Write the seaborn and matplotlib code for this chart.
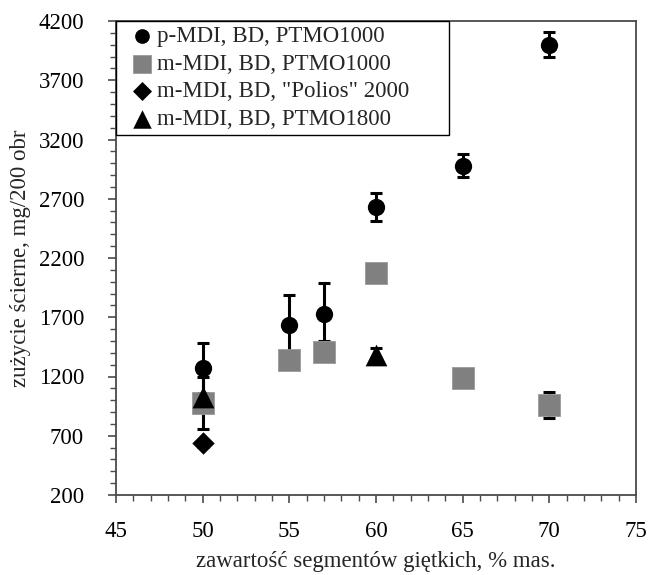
import matplotlib
matplotlib.use("Agg")
import matplotlib.pyplot as plt
from matplotlib.ticker import MultipleLocator
import seaborn as sns
import pandas as pd

# ---- data ----
pmdi_x = [50, 55, 57, 60, 65, 70]
pmdi_y = [1270, 1635, 1725, 2630, 2980, 4000]
pmdi_err_lo = [210, 250, 225, 120, 100, 105]
pmdi_err_hi = [210, 250, 265, 120, 100, 105]

mmdi_x = [50, 55, 57, 60, 65, 70]
mmdi_y = [980, 1340, 1405, 2075, 1190, 960]
mmdi_err = [220, 0, 0, 0, 0, 110]

polios_x = [50]
polios_y = [636]
polios_err = [30]

p1800_x = [50, 60]
p1800_y = [1030, 1380]
p1800_err = [0, 60]

labels = ["p-MDI, BD, PTMO1000", "m-MDI, BD, PTMO1000",
          "m-MDI, BD, \"Polios\" 2000", "m-MDI, BD, PTMO1800"]
xticks = [45, 50, 55, 60, 65, 70, 75]
yticks = [200, 700, 1200, 1700, 2200, 2700, 3200, 3700, 4200]

sns.set_theme(style="white")
plt.rcParams["font.family"] = ["Liberation Serif", "DejaVu Serif"]

FS = 16.5

fig = plt.figure(figsize=(6.48, 5.75), dpi=100)
ax = fig.add_axes([116 / 648, 1 - 495 / 575, 520 / 648, 474 / 575])

series = [
    (pmdi_x, pmdi_y, [pmdi_err_lo, pmdi_err_hi], "o", "black", 155, labels[0]),
    (mmdi_x, mmdi_y, [mmdi_err, mmdi_err], "s", "#808080", 235, labels[1]),
    (polios_x, polios_y, [polios_err, polios_err], "D", "black", 130, labels[2]),
    (p1800_x, p1800_y, [p1800_err, p1800_err], "^", "black", 245, labels[3]),
]

for xs, ys, err, mk, col, size, lab in series:
    ax.errorbar(xs, ys, yerr=err, fmt="none", ecolor="black", elinewidth=2.2,
                capsize=4.5, capthick=2.2, zorder=2)

for xs, ys, err, mk, col, size, lab in series:
    df = pd.DataFrame({"x": xs, "y": ys})
    sns.scatterplot(data=df, x="x", y="y", marker=mk, color=col, s=size,
                    edgecolor=("#9a9a9a" if col != "black" else "black"),
                    linewidth=(0.6 if col != "black" else 0), ax=ax,
                    label=lab, zorder=3)

ax.set_xlim(45, 75)
ax.set_ylim(200, 4200)
ax.set_xticks(xticks)
ax.set_yticks(yticks)
ax.xaxis.set_minor_locator(MultipleLocator(1))
ax.yaxis.set_minor_locator(MultipleLocator(100))

spine_col = "#4a4a4a"
for s in ax.spines.values():
    s.set_color(spine_col)
    s.set_linewidth(1.3)
ax.tick_params(which="major", direction="out", length=6, width=1.2,
               color=spine_col, labelsize=FS, labelcolor="black",
               left=True, bottom=True)
ax.tick_params(which="minor", direction="out", length=4.5, width=1.0,
               color=spine_col, left=True, bottom=True)
ax.tick_params(axis="x", which="major", pad=13)
ax.tick_params(axis="y", which="major", pad=17)

ax.set_xlabel("zawartość segmentów giętkich, % mas.", fontsize=FS, labelpad=6)
ax.set_ylabel("zużycie ścierne, mg/200 obr", fontsize=FS, labelpad=5)

leg = ax.legend(loc="upper left", bbox_to_anchor=(0, 1, 333 / 520, 0),
                mode="expand", borderaxespad=0, frameon=True, fancybox=False,
                fontsize=FS, markerscale=0.85, handlelength=1.9,
                handletextpad=-0.3, labelspacing=0.3, borderpad=0.2)
leg.get_frame().set_edgecolor("black")
leg.get_frame().set_linewidth(1.0)
leg.get_frame().set_alpha(1)

fig.savefig("out.png", dpi=100)
